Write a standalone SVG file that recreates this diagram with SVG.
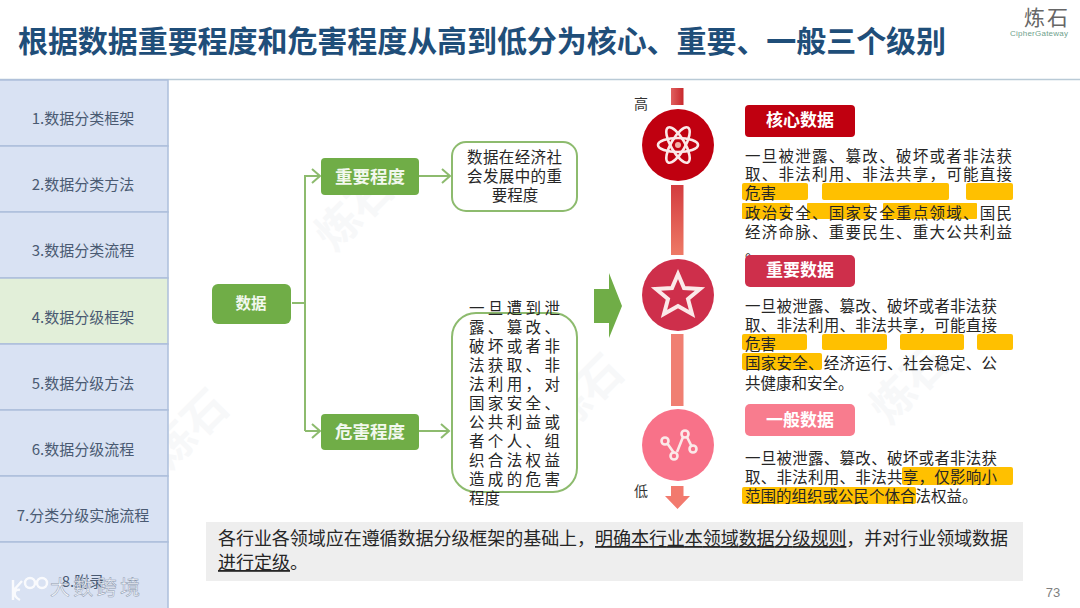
<svg xmlns="http://www.w3.org/2000/svg" width="1080" height="608" viewBox="0 0 1080 608">
<style>
text{font-family:"Noto Sans CJK SC","Liberation Sans",sans-serif}
.tab{fill:#d9e2f3;stroke:#adbfdb;stroke-width:1.5}
.tl{font-size:15px;fill:#4a5a72;text-anchor:middle;dominant-baseline:central}
.node{fill:#70ad47}
.nt{font-size:17.5px;font-weight:700;fill:#f2f8ee;text-anchor:middle;dominant-baseline:central}
.box{fill:#fff;stroke:#8dbb6e;stroke-width:2}
.bt{font-size:15.5px;fill:#262626;dominant-baseline:central}
.conn{fill:none;stroke:#8dbb6e;stroke-width:2}
.hl{fill:#ffc000}
.d{font-size:15.5px;fill:#262626;dominant-baseline:central}
.lab{font-size:17px;font-weight:700;fill:#fff;text-anchor:middle;dominant-baseline:central}
.ic{fill:none;stroke:#fbe9e9;stroke-width:3.2}
.wm{font-size:44px;font-weight:700;fill:#f7f8f9;text-anchor:middle}
.nb{font-size:18px;fill:#262626}
</style>
<rect width="1080" height="608" fill="#fff"/>
<g id="watermarks">
<text class="wm" transform="translate(365,222) rotate(-45)">炼石</text>
<text class="wm" transform="translate(200,440) rotate(-45)">炼石</text>
<text class="wm" transform="translate(595,405) rotate(-45)">炼石</text>
<text class="wm" transform="translate(920,395) rotate(-45)">炼石</text>
</g>
<g id="title">
<text x="18" y="52" font-size="30" font-weight="700" fill="#1f4e79" textLength="928">根据数据重要程度和危害程度从高到低分为核心、重要、一般三个级别</text>
<line x1="0" y1="79.500" x2="1080" y2="79.500" stroke="#b9cad6" stroke-width="1.500"/>
</g>
<g id="logo">
<text x="1046" y="25" font-size="21" fill="#666" text-anchor="middle" textLength="44">炼石</text>
<text x="1039" y="36" font-size="8" fill="#6f9f8c" text-anchor="middle" textLength="58" style="font-family:'Liberation Sans',sans-serif">CipherGateway</text>
</g>
<g id="sidebar">
<g id="tab1"><rect class="tab" x="-2" y="80" width="170" height="66"/><text class="tl" x="83" y="117">1.数据分类框架</text></g>
<g id="tab2"><rect class="tab" x="-2" y="146" width="170" height="66"/><text class="tl" x="83" y="183">2.数据分类方法</text></g>
<g id="tab3"><rect class="tab" x="-2" y="212" width="170" height="66"/><text class="tl" x="83" y="249">3.数据分类流程</text></g>
<g id="tab4"><rect class="tab" x="-2" y="278" width="170" height="66" style="fill:#e2efd9"/><text class="tl" x="83" y="316">4.数据分级框架</text></g>
<g id="tab5"><rect class="tab" x="-2" y="344" width="170" height="66"/><text class="tl" x="83" y="382">5.数据分级方法</text></g>
<g id="tab6"><rect class="tab" x="-2" y="410" width="170" height="66"/><text class="tl" x="83" y="448">6.数据分级流程</text></g>
<g id="tab7"><rect class="tab" x="-2" y="476" width="170" height="66"/><text class="tl" x="83" y="514">7.分类分级实施流程</text></g>
<g id="tab8"><rect class="tab" x="-2" y="542" width="170" height="68"/><text class="tl" x="83" y="580">8.附录</text></g>
</g>
<g id="connectors">
<path class="conn" d="M292 303H305M305 431V176H319M305 431H319M419 176H450M419 431H449"/>
<path class="conn" d="M312 169L320 176L312 183M312 424L320 431L312 438M442 169L450 176L442 183M441 424L449 431L441 438"/>
</g>
<g id="n-data"><rect class="node" x="212" y="284" width="79" height="40" rx="6"/><text class="nt" x="251" y="302" style="font-size:15.500px">数据</text></g>
<g id="n-imp"><rect class="node" x="321" y="158" width="98" height="37" rx="4"/><text class="nt" x="370" y="175">重要程度</text></g>
<g id="n-harm"><rect class="node" x="321" y="414" width="98" height="36" rx="4"/><text class="nt" x="370" y="430">危害程度</text></g>
<g id="box-imp"><rect class="box" x="452" y="142" width="125" height="69" rx="14"/>
<text class="bt" x="467" y="156" textLength="95">数据在经济社</text><text class="bt" x="467" y="175" textLength="95">会发展中的重</text><text class="bt" x="515" y="194" text-anchor="middle">要程度</text></g>
<g id="box-harm"><rect class="box" x="452" y="313" width="125" height="179" rx="24"/>
<text class="bt" x="469" y="307" textLength="91">一旦遭到泄</text><text class="bt" x="469" y="326" textLength="91">露、篡改、</text><text class="bt" x="469" y="345" textLength="91">破坏或者非</text><text class="bt" x="469" y="364" textLength="91">法获取、非</text><text class="bt" x="469" y="383" textLength="91">法利用，对</text><text class="bt" x="469" y="402" textLength="91">国家安全、</text><text class="bt" x="469" y="421" textLength="91">公共利益或</text><text class="bt" x="469" y="440" textLength="91">者个人、组</text><text class="bt" x="469" y="459" textLength="91">织合法权益</text><text class="bt" x="469" y="478" textLength="91">造成的危害</text><text class="bt" x="469" y="497">程度</text></g>
<g id="big-arrow"><path d="M594 289H609V273L622 306L609 338V323H594Z" fill="#70ad47"/></g>
<g id="scale">
<defs>
<linearGradient id="g1" x1="0" x2="1" y1="0" y2="0"><stop offset="0" stop-color="#e0605f"/><stop offset="1" stop-color="#c8282c"/></linearGradient>
<linearGradient id="g2" x1="0" x2="0" y1="0" y2="1"><stop offset="0" stop-color="#d33c3f"/><stop offset="1" stop-color="#ee7a66"/></linearGradient>
</defs>
<rect x="671" y="88" width="12.500" height="17" fill="url(#g1)"/>
<rect x="671" y="185" width="12.500" height="70" fill="url(#g2)"/>
<rect x="671" y="334" width="12.500" height="72" fill="#f07f72"/>
<path d="M671 486H683.500V496H690L677.500 509L665 496H671Z" fill="#f27a6e"/>
<text x="641" y="103" font-size="14" fill="#333" text-anchor="middle" dominant-baseline="central">高</text>
<text x="641" y="490" font-size="14" fill="#333" text-anchor="middle" dominant-baseline="central">低</text>
</g>
<g id="c-core"><circle cx="678" cy="145" r="36" fill="#c00010"/>
<g class="ic" style="stroke-width:2.600"><ellipse cx="678" cy="145" rx="20" ry="7" transform="rotate(60 678 145)"/><ellipse cx="678" cy="145" rx="20" ry="7" transform="rotate(-60 678 145)"/><ellipse cx="678" cy="145" rx="20" ry="7"/></g><circle cx="678" cy="145" r="3" fill="#f3b0a8"/></g>
<g id="c-imp"><circle cx="678" cy="295" r="36" fill="#ce2f4b"/>
<path class="ic" style="stroke-width:4" d="M678 274L684 288L700 289L688 299L692 314L678 306L664 314L668 299L656 289L672 288Z"/></g>
<g id="c-gen"><circle cx="678" cy="445" r="36" fill="#f87289"/>
<g class="ic" style="stroke-width:2.600"><path d="M667 443L674 453M677 452L683 437M687 437L692 447"/><circle cx="665" cy="441" r="3.500"/><circle cx="674" cy="456" r="3.500"/><circle cx="685" cy="434" r="3.500"/><circle cx="693" cy="449" r="3.500"/></g></g>
<g id="core">
<rect x="745" y="105" width="110" height="32" rx="4" fill="#c00010"/><text class="lab" x="800" y="118">核心数据</text>
<rect class="hl" x="742" y="183" width="66" height="17" rx="2"/><rect class="hl" x="822" y="183" width="127" height="17" rx="2"/><rect class="hl" x="966" y="183" width="47" height="17" rx="2"/>
<rect class="hl" x="742" y="203" width="48" height="16" rx="1"/><rect class="hl" x="807" y="203" width="63" height="16" rx="1"/><rect class="hl" x="883" y="203" width="94" height="16" rx="1"/>
<text class="d" x="745" y="155" textLength="267">一旦被泄露、篡改、破坏或者非法获</text>
<text class="d" x="745" y="173" textLength="267">取、非法利用、非法共享，可能直接</text>
<text class="d" x="745" y="192">危害</text>
<text class="d" x="745" y="212" textLength="267">政治安全、国家安全重点领域、国民</text>
<text class="d" x="745" y="231" textLength="267">经济命脉、重要民生、重大公共利益</text>
<text class="d" x="745" y="250">。</text>
</g>
<g id="important">
<rect x="745" y="255" width="110" height="32" rx="5" fill="#ce2f4b"/><text class="lab" x="800" y="268">重要数据</text>
<rect class="hl" x="742" y="334" width="65" height="16" rx="2"/><rect class="hl" x="822" y="334" width="65" height="16" rx="2"/><rect class="hl" x="900" y="334" width="64" height="16" rx="2"/><rect class="hl" x="977" y="334" width="36" height="16" rx="2"/>
<rect class="hl" x="742" y="353" width="80" height="17" rx="2"/>
<text class="d" x="745" y="305" textLength="252">一旦被泄露、篡改、破坏或者非法获</text>
<text class="d" x="745" y="324" textLength="252">取、非法利用、非法共享，可能直接</text>
<text class="d" x="745" y="343">危害</text>
<text class="d" x="745" y="362" textLength="252">国家安全、经济运行、社会稳定、公</text>
<text class="d" x="745" y="382">共健康和安全。</text>
</g>
<g id="general">
<rect x="745" y="404" width="110" height="32" rx="5" fill="#f87c8e"/><text class="lab" x="800" y="418">一般数据</text>
<rect class="hl" x="902" y="467" width="111" height="18" rx="2"/><rect class="hl" x="742" y="487" width="174" height="17" rx="2"/>
<text class="d" x="745" y="457" textLength="252">一旦被泄露、篡改、破坏或者非法获</text>
<text class="d" x="745" y="476" textLength="252">取、非法利用、非法共享，仅影响小</text>
<text class="d" x="745" y="495">范围的组织或公民个体合法权益。</text>
</g>
<g id="note">
<rect x="206" y="522" width="817" height="59" fill="#eeeeee"/>
<text class="nb" x="218" y="545" textLength="790">各行业各领域应在遵循数据分级框架的基础上，<tspan text-decoration="underline">明确本行业本领域数据分级规则</tspan>，并对行业领域数据</text>
<text class="nb" x="218" y="569"><tspan text-decoration="underline">进行定级</tspan>。</text>
</g>
<text x="1053" y="597" font-size="13" fill="#7f7f7f" text-anchor="middle" style="font-family:'Liberation Sans',sans-serif">73</text>
<g id="overlay">
<g fill="none" stroke="#fff" stroke-width="2.500" opacity="0.85"><path d="M13 580V600M13 591L22 581M20 600C12 596 14 588 20 590"/><circle cx="30" cy="583" r="5"/><circle cx="42" cy="583" r="5"/></g>
<text x="50" y="595" font-size="20" fill="#fff" fill-opacity="0.8" stroke="#8a97ad" stroke-width="0.500" textLength="90">大数跨境</text>
</g>
</svg>
